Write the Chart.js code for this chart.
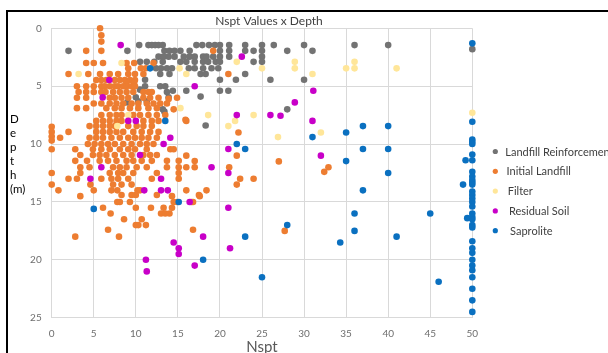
<!DOCTYPE html>
<html>
<head>
<meta charset="utf-8">
<script src="https://cdn.jsdelivr.net/npm/chart.js@4/dist/chart.umd.min.js"></script>
<style>
  html, body { margin: 0; padding: 0; background: #fff; overflow: hidden; }
  #frame { position: absolute; left: 6px; top: 10px; width: 700px; height: 400px; border: 2px solid #000; box-sizing: border-box; }
  #wrap { position: absolute; left: 0; top: 0; width: 608px; height: 360px; }
</style>
</head>
<body>
<div id="frame"></div>
<div id="wrap"><canvas id="chart" width="608" height="360"></canvas></div>
<script>
// Nspt blow counts (x) against depth in metres (y), one list of [Nspt, depth] per soil layer
const landfillReinforcement = [
  [10.4,1.45],[11.5,1.45],[11.9,1.45],[12.3,1.45],[12.7,1.45],[13.2,1.45],[17.2,1.45],[17.9,1.45],[18.7,1.45],[19.4,1.45],[20.0,1.45],[21.1,1.45],[23.0,1.45],[25.0,1.45],[26.4,1.45],[30.0,1.45],[36.0,1.45],[40.0,1.45],
  [2.0,1.95],[9.0,1.95],[13.4,1.95],[14.0,1.95],[14.6,1.95],[15.3,1.95],[16.4,1.95],[20.0,1.95],[21.1,1.95],[23.0,1.95],[24.0,1.95],[25.0,1.95],[28.0,1.95],[31.0,1.95],[50.0,1.8],
  [12.7,2.45],[13.3,2.45],[13.9,2.45],[14.6,2.45],[15.7,2.45],[16.4,2.45],[17.0,2.45],[18.0,2.45],[18.4,2.45],[19.2,2.45],[20.0,2.45],[21.1,2.45],[25.0,2.45],
  [10.5,2.9],[11.3,2.9],[12.2,2.9],[13.2,2.9],[15.3,2.9],[16.0,2.9],[17.0,2.9],[18.0,2.9],[18.6,2.9],[19.5,2.9],[20.0,2.9],[24.0,2.9],[25.0,2.9],
  [12.4,3.45],[13.0,3.45],[13.7,3.45],[14.3,3.45],[16.3,3.45],[17.0,3.45],[18.0,3.45],[19.0,3.45],[19.8,3.45],
  [12.9,3.95],[14.0,3.95],[17.7,3.95],[18.3,3.95],[23.0,3.95],
  [11.1,4.45],[20.0,4.45],[21.9,4.45],[26.0,4.45],[30.0,4.45],
  [11.1,5.0],[12.9,5.0],[13.5,5.0],[14.4,5.4],[16.0,5.4],[20.0,5.4],[21.0,5.4],[10.5,5.3],[13.7,5.5],
  [10.0,5.95],[13.9,5.95],[17.7,5.9],[10.3,6.3],[11.3,6.3],[9.0,6.4],
  [13.2,7.0],[13.4,7.2],[28.0,7.0],[18.3,8.4]
];
const initialLandfill = [
  [5.75,0.0],[5.9,0.6],[5.9,1.15],[4.1,1.95],[5.9,1.95],[19.2,1.95],
  [4.1,3.0],[5.0,3.0],[6.1,3.0],[8.9,3.0],[9.8,3.0],[12.1,3.0],[9.1,3.45],[10.6,3.45],[11.2,3.45],
  [2.0,3.95],[4.35,3.95],[5.75,3.95],[6.9,3.95],[7.9,3.95],[9.1,3.95],[9.9,3.95],[10.9,3.95],[21.0,3.95],
  [5.3,4.47],[5.9,4.47],[6.5,4.47],[7.5,4.47],[8.1,4.47],[8.7,4.47],[9.3,4.47],[9.9,4.47],[8.9,4.7],[9.8,4.7],
  [3.0,5.0],[4.1,5.0],[5.0,5.0],[5.9,5.0],[6.3,5.0],[6.9,5.0],[7.5,5.0],[7.9,5.0],[8.5,5.0],[8.9,5.0],[9.5,5.0],[9.9,5.0],
  [3.2,5.5],[4.1,5.5],[5.0,5.5],[5.9,5.5],[6.4,5.5],[7.3,5.5],[8.1,5.5],[8.9,5.5],[9.7,5.5],[10.9,5.5],[11.5,5.5],[11.9,5.5],
  [3.0,6.0],[4.1,6.0],[6.9,6.0],[7.5,6.0],[8.3,6.0],[9.1,6.0],[10.9,6.0],[11.7,6.0],[12.7,6.0],[13.9,6.1],[14.9,6.0],
  [5.0,6.5],[5.9,6.5],[6.9,6.5],[7.7,6.5],[8.5,6.5],[9.5,6.5],[10.3,6.5],[11.3,6.5],[12.1,6.5],[12.9,6.5],[13.7,6.5],
  [3.0,6.9],[4.1,6.9],[6.5,6.9],[7.5,6.9],[8.3,6.9],[9.3,6.9],[10.3,6.9],[11.5,6.9],[12.5,6.9],[14.5,7.0],
  [5.9,7.5],[6.9,7.5],[7.7,7.5],[8.3,7.5],[9.7,7.5],[10.5,7.5],[11.5,7.5],[12.5,7.5],[13.5,7.5],
  [5.3,8.0],[6.1,8.0],[6.9,8.0],[7.7,8.0],[8.3,8.0],[10.9,8.0],[11.9,8.0],[12.7,8.0],[16.0,8.0],[15.9,7.9],
  [4.5,8.45],[5.3,8.45],[6.1,8.45],[6.9,8.45],[7.5,8.45],[9.1,8.45],[10.1,8.45],[10.9,8.45],[11.9,8.45],
  [0.0,8.5],[0.0,8.95],[2.0,8.95],[5.3,8.95],[6.1,8.95],[6.9,8.95],[7.7,8.95],[8.5,8.95],[9.7,8.95],[10.7,8.95],[11.7,8.95],[12.7,8.95],[22.2,9.0],
  [0.0,9.35],[1.0,9.45],[4.5,9.45],[5.3,9.45],[6.1,9.45],[7.1,9.45],[8.1,9.45],[9.1,9.45],[9.9,9.45],[10.7,9.45],[11.5,9.45],[12.5,9.45],
  [0.0,9.7],[4.3,10.0],[5.1,10.0],[5.9,10.0],[6.7,10.0],[7.5,10.0],[8.5,10.0],[9.5,10.0],[10.5,10.0],[11.3,10.0],[12.1,10.0],
  [0.0,10.45],[2.8,10.45],[4.9,10.45],[5.9,10.45],[6.9,10.45],[8.1,10.45],[9.1,10.45],[9.9,10.45],[11.3,10.45],[14.1,10.45],[14.5,10.45],
  [3.4,10.95],[4.9,10.95],[5.7,10.95],[6.5,10.95],[7.5,10.95],[8.5,10.95],[9.5,10.95],[10.9,10.95],[11.7,10.95],[12.5,10.95],[16.0,11.0],[22.0,11.0],
  [2.8,11.45],[4.2,11.45],[5.7,11.45],[6.7,11.45],[7.7,11.45],[8.9,11.45],[9.7,11.45],[10.7,11.45],[11.9,11.45],[13.7,11.45],[15.1,11.45],[17.0,11.47],[27.0,11.5],
  [3.4,12.0],[4.5,12.0],[7.3,12.0],[8.1,12.0],[8.9,12.0],[10.1,12.0],[11.3,12.0],[13.7,12.0],[15.1,12.0],[16.0,12.0],[17.0,12.0],[21.1,12.0],[32.9,12.0],
  [0.0,12.5],[3.4,12.5],[6.9,12.5],[7.9,12.5],[8.5,12.5],[9.7,12.5],[12.5,12.5],[15.1,12.5],[32.4,12.4],
  [2.0,13.0],[3.0,13.0],[5.9,13.0],[7.1,13.0],[7.9,13.0],[9.1,13.0],[11.9,13.0],[15.1,13.0],[22.4,13.0],[24.0,13.0],
  [0.0,13.5],[4.6,13.5],[7.3,13.5],[8.3,13.5],[9.5,13.5],[22.0,13.5],
  [0.8,14.0],[5.0,14.0],[7.1,14.0],[7.8,14.0],[10.2,14.0],[10.5,14.0],[16.0,14.0],[18.4,14.0],
  [3.4,14.5],[8.3,14.4],[9.5,14.4],[10.0,14.4],[12.5,14.4],[14.3,14.5],[17.5,14.4],[17.6,14.5],
  [7.8,15.0],[8.1,15.0],[9.3,15.0],[14.5,15.0],[14.9,15.0],[16.6,15.0],[16.8,15.0],
  [6.1,15.5],[10.0,15.5],[11.8,15.5],[13.3,15.5],[14.3,15.5],
  [7.0,16.0],[13.0,16.0],[13.5,16.0],[14.0,16.0],
  [8.6,16.5],[10.7,16.5],[10.0,17.0],[10.3,17.0],[11.2,17.0],[16.8,17.4],
  [6.7,17.4],[27.7,17.5],[2.8,18.0],[8.0,18.0]
];
const filter = [
  [8.3,3.0],[3.2,3.95],[15.2,3.46],[16.0,3.95],[15.3,6.9],[9.1,7.5],[7.8,8.45],
  [22.0,2.9],[25.0,3.46],[28.9,2.9],[28.9,3.46],[31.0,3.95],[35.0,3.46],[36.0,2.9],[36.0,3.46],[41.0,3.46],
  [18.6,7.5],[21.8,8.0],[21.0,8.45],[24.0,7.5],[26.9,9.4],[32.0,9.0],[50.0,7.3]
];
const residualSoil = [
  [8.2,1.45],[6.85,4.47],[6.06,5.97],[17.0,5.0],[22.6,2.45],[9.1,8.0],[10.0,8.0],[14.1,9.45],[13.3,10.0],
  [10.5,10.95],[5.9,12.0],[4.6,13.0],[13.0,13.0],[11.0,14.0],[13.0,14.0],[13.8,14.0],[16.4,15.0],
  [14.5,18.5],[15.1,19.0],[15.1,19.5],[11.2,20.0],[11.3,21.0],[17.0,20.5],
  [31.1,5.4],[28.9,6.4],[22.0,7.5],[26.0,7.5],[27.2,7.55],[31.0,8.0],[21.0,10.43],[32.0,11.0],
  [19.0,12.0],[21.0,12.5],[21.0,15.5],[18.0,18.0],[21.2,19.0]
];
const saprolite = [
  [50.0,1.3],[11.7,3.46],[13.5,8.0],[5.0,15.6],[15.1,15.0],[22.0,10.0],[23.0,10.43],[31.0,9.4],
  [35.0,9.0],[37.0,8.45],[37.0,10.43],[35.0,11.47],[40.0,8.45],[40.0,10.43],[37.0,14.0],[36.0,16.0],
  [36.0,17.5],[34.3,18.5],[28.0,17.0],[23.0,18.0],[18.0,20.0],[25.0,21.5],[40.0,12.5],[48.9,13.5],
  [45.0,16.0],[41.0,18.0],[46.0,21.9],[49.4,16.4],[49.2,11.4],
  [50.0,8.07],[50.0,9.6],[50.0,9.8],[50.0,10.0],[50.0,10.9],[50.0,11.4],[50.0,12.4],[50.0,12.8],
  [50.0,13.1],[50.0,13.3],[50.0,13.5],[50.0,14.1],[50.0,14.4],[50.0,14.7],[50.0,15.0],[50.0,15.4],
  [50.0,16.0],[50.0,16.3],[50.0,16.5],[50.0,17.0],[50.0,17.2],[50.0,18.4],[50.0,19.0],[50.0,19.4],
  [50.0,20.0],[50.0,20.5],[50.0,20.9],[50.0,21.5],[50.0,22.5],[50.0,23.5],[50.0,24.5]
];

const seriesNames = ['Landfill Reinforcement', 'Initial Landfill', 'Filter', 'Residual Soil', 'Saprolite'];
const seriesData = [landfillReinforcement, initialLandfill, filter, residualSoil, saprolite];
const chartTitle = 'Nspt Values x Depth';
const xTitle = 'Nspt';
const yTitleLines = ['D', 'e', 'p', 't', 'h', '(m)'];

const colors = ['#737373', '#ED7D31', '#FFE699', '#C800C8', '#0A70C0'];
const FONT = 'Lato, "Open Sans", "Liberation Sans", sans-serif';

// title, stacked vertical axis caption and legend drawn on the canvas
const annotations = {
  id: 'annotations',
  afterDraw(chart) {
    const {ctx, chartArea} = chart;
    ctx.save();
    ctx.textBaseline = 'alphabetic';
    // title
    ctx.fillStyle = '#404040';
    ctx.font = '12px ' + FONT;
    ctx.textAlign = 'center';
    ctx.fillText(chartTitle, (chartArea.left + chartArea.right) / 2 + 7, 25);
    // vertical caption, one letter per line
    ctx.fillStyle = '#000';
    ctx.font = '11.5px ' + FONT;
    ctx.textAlign = 'left';
    yTitleLines.forEach((t, i) => ctx.fillText(t, 10, 123 + i * 14));
    // legend
    ctx.font = '11px ' + FONT;
    chart.data.datasets.forEach((ds, i) => {
      const y = 151.5 + i * 19.8;
      ctx.beginPath();
      ctx.fillStyle = ds.backgroundColor;
      ctx.arc(chartArea.right + 23, y, 2.6, 0, Math.PI * 2);
      ctx.fill();
      ctx.fillStyle = '#404040';
      ctx.textBaseline = 'middle';
      ctx.fillText(ds.label, chartArea.right + 33 + i * 1.2, y + 0.5);
    });
    ctx.restore();
  }
};

new Chart(document.getElementById('chart'), {
  type: 'scatter',
  data: {
    datasets: seriesData.map((d, i) => ({
      label: seriesNames[i],
      data: d.map(([x, y]) => ({x, y})),
      backgroundColor: colors[i],
      borderColor: colors[i],
      pointRadius: 3.3,
      pointBorderWidth: 0,
      clip: false,
      order: seriesData.length - i
    }))
  },
  options: {
    responsive: false,
    animation: false,
    events: [],
    layout: { padding: { left: 0, right: 135.7, top: 28.3, bottom: 0 } },
    plugins: { legend: { display: false }, title: { display: false }, tooltip: { enabled: false } },
    scales: {
      x: {
        type: 'linear', min: 0, max: 50,
        ticks: { stepSize: 5, padding: 10, color: '#6e6e6e', font: { family: FONT, size: 10 } },
        grid: { color: '#d9d9d9', drawTicks: false },
        border: { color: '#d9d9d9' },
        title: { display: true, text: xTitle, color: '#595959', font: { family: FONT, size: 15 }, padding: { top: 0, bottom: 4 } },
        afterFit(scale) { scale.height = 42.3; }
      },
      y: {
        type: 'linear', min: 0, max: 25, reverse: true,
        ticks: { stepSize: 5, padding: 10, color: '#6e6e6e', font: { family: FONT, size: 10 } },
        grid: { color: '#d9d9d9', drawTicks: false },
        border: { color: '#d9d9d9' },
        afterFit(scale) { scale.width = 51.7; }
      }
    }
  },
  plugins: [annotations]
});
</script>
</body>
</html>
